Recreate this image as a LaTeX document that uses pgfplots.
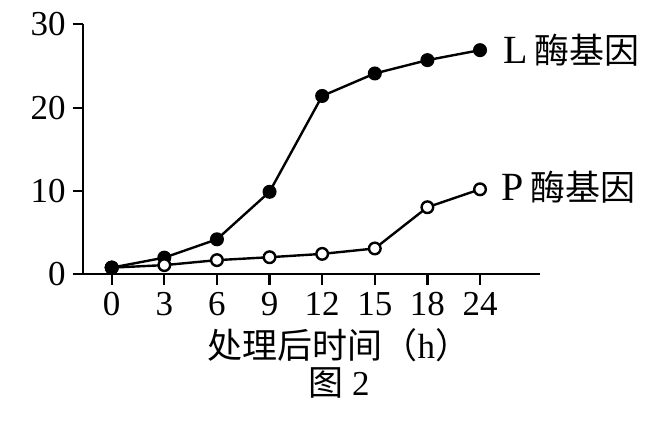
\documentclass[border=0pt]{standalone}
\usepackage{fontspec}
\setmainfont{Liberation Serif}
\newfontfamily\cjk{Noto Sans CJK SC}
\usepackage{pgfplots}
\pgfplotsset{compat=1.18}
\begin{document}
\begin{tikzpicture}
\useasboundingbox (-41.65pt,-74.85pt) rectangle (293.35pt,137.15pt);
\begin{axis}[
  at={(0,0)}, anchor=south west,
  scale only axis, width=228.35pt, height=125pt,
  xmin=-0.54, xmax=8.14, ymin=0, ymax=30,
  axis lines=left, axis line style={-, line width=1.1pt},
  every tick/.style={black, line width=1.1pt},
  tick align=outside, major tick length=5.3pt,
  xtick={0,...,7}, xticklabels={0,3,6,9,12,15,18,24},
  ytick={0,10,20,30},
  /pgf/number format/assume math mode=true,
  tick label style={font=\fontsize{17.5}{18}\selectfont},
  clip=false,
]
\addplot[black, line width=1.2pt, mark=*, mark size=2.9pt, mark options={fill=black}]
  coordinates {(0,0.8)(1,2.0)(2,4.2)(3,9.9)(4,21.4)(5,24.1)(6,25.7)(7,26.9)}
  node[pos=1, anchor=west, xshift=8pt] {\fontsize{20}{22}\selectfont L\,{\cjk\fontsize{17.5}{20}\selectfont 酶基因}};
\addplot[black, line width=1.2pt, mark=*, mark size=2.9pt, mark options={fill=white}]
  coordinates {(0,0.8)(1,1.1)(2,1.7)(3,2.05)(4,2.45)(5,3.1)(6,8.05)(7,10.2)}
  node[pos=1, anchor=west, xshift=7pt, yshift=1pt] {\fontsize{20}{22}\selectfont P\,{\cjk\fontsize{17.5}{20}\selectfont 酶基因}};
\addplot[black, line width=1.2pt, only marks, mark=*, mark size=2.9pt, mark options={fill=black}]
  coordinates {(0,0.8)};
\end{axis}
\node at (127.85pt,-35.35pt) {\fontsize{17.5}{20}\selectfont{\cjk 处理后时间（}h{\cjk ）}};
\node at (127.85pt,-54.35pt) {\fontsize{17.5}{20}\selectfont{\cjk 图} 2};
\end{tikzpicture}
\end{document}
